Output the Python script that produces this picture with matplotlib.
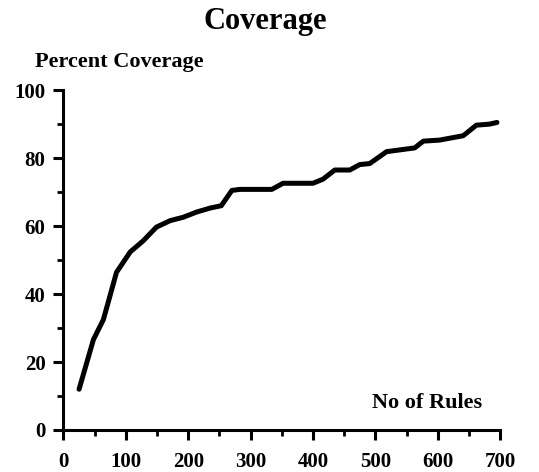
import matplotlib.pyplot as plt
from matplotlib.ticker import MultipleLocator

# data
rules = [25, 48, 64, 85, 107, 128, 149, 171, 192, 213, 235, 253, 270, 283,
         334, 352, 400, 416, 435, 459, 475, 491, 518, 563, 577, 603, 641,
         662, 683, 695]
coverage = [12.0, 26.6, 32.5, 46.4, 52.4, 55.7, 59.7, 61.6, 62.6, 64.1,
            65.3, 66.0, 70.5, 70.8, 70.8, 72.6, 72.6, 73.8, 76.5, 76.5,
            78.1, 78.4, 81.9, 83.0, 85.0, 85.3, 86.6, 89.7, 90.0, 90.5]
x_ticks = [0, 100, 200, 300, 400, 500, 600, 700]
y_ticks = [0, 20, 40, 60, 80, 100]

plt.rcParams['font.family'] = ['Liberation Serif', 'DejaVu Serif']
plt.rcParams['font.weight'] = 'bold'

fig = plt.figure(figsize=(5.39, 4.72), dpi=100)
ax = fig.add_axes([0.1178, 0.089, 0.81, 0.72])

ax.plot(rules, coverage, color='black', linewidth=3.6, solid_capstyle='round')

ax.set_xlim(0, 700)
ax.set_ylim(0, 100)
ax.set_xticks(x_ticks)
ax.set_yticks(y_ticks)
ax.xaxis.set_minor_locator(MultipleLocator(50))
ax.yaxis.set_minor_locator(MultipleLocator(10))
ax.tick_params(which='major', direction='out', length=7, width=2.2,
               labelsize=15, pad=6)
ax.tick_params(which='minor', direction='out', length=4, width=2)
ax.tick_params(axis='x', which='major', pad=9)
for lab in ax.get_xticklabels() + ax.get_yticklabels():
    lab.set_fontweight('bold')

for side in ['top', 'right']:
    ax.spines[side].set_visible(False)
for side in ['left', 'bottom']:
    ax.spines[side].set_linewidth(2.2)

ax.text(672, 8, 'No of Rules', ha='right', va='center', fontsize=16,
        fontweight='bold')
fig.text(35 / 539, 1 - 62 / 472, 'Percent Coverage', ha='left', va='center',
         fontsize=16, fontweight='bold')
fig.text(265 / 539, 1 - 22 / 472, 'Coverage', ha='center', va='center',
         fontsize=22, fontweight='bold')

fig.savefig('out.png', dpi=100)
